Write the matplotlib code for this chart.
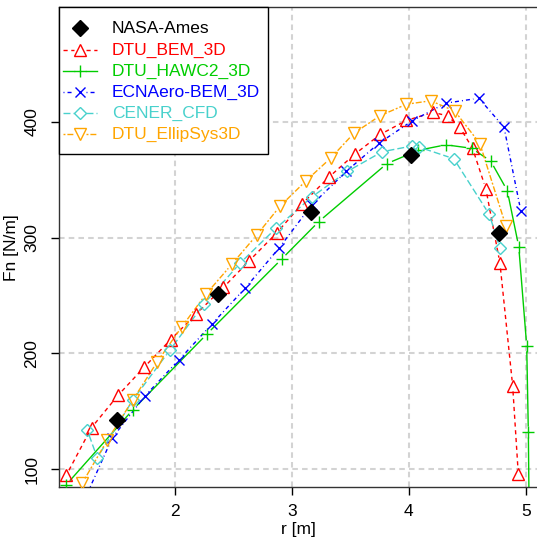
import numpy as np
import matplotlib
matplotlib.use("Agg")
import matplotlib.pyplot as plt
from matplotlib import rcParams
from matplotlib.collections import LineCollection
from matplotlib.lines import Line2D
from matplotlib.patches import Rectangle
from matplotlib.transforms import Affine2D

rcParams['font.family'] = 'sans-serif'
rcParams['font.sans-serif'] = ['Liberation Sans', 'DejaVu Sans']
rcParams['lines.scale_dashes'] = False

# ---- data --------------------------------------------------------------
nasa_r = [1.508, 2.365, 3.165, 4.023, 4.773]
nasa_fn = [142.2, 251.2, 322.4, 371.3, 304.3]

bem_r = [1.073, 1.288, 1.516, 1.737, 1.965, 2.182, 2.416, 2.637, 2.871, 3.088,
         3.316, 3.539, 3.757, 3.979, 4.208, 4.331, 4.437, 4.545, 4.659, 4.779,
         4.888, 4.936]
bem_fn = [95, 136, 164, 188, 212, 234, 257, 280, 304, 329,
          352, 372, 389, 401, 408, 405, 395, 377, 342, 278,
          172, 96]

hawc_r = [1.071, 1.642, 2.274, 2.913, 3.231, 3.813, 4.083, 4.317, 4.537, 4.700,
          4.842, 4.940, 5.008, 5.022, 5.030]
hawc_fn = [86.6, 151.5, 216.7, 281.4, 313.8, 363.8, 375.3, 380, 377, 366,
           340.5, 292.2, 206.6, 132.2, 50]

ecn_r = [1.180, 1.465, 1.742, 2.037, 2.317, 2.602, 2.891, 3.171, 3.465, 3.745,
         4.028, 4.314, 4.599, 4.814, 4.957]
ecn_fn = [63, 127.1, 163, 194.6, 225.3, 256.4, 290.9, 328.2, 357, 381.4,
          400.6, 415.9, 420.2, 395.2, 323.3]

cener_r = [1.251, 1.337, 1.642, 1.959, 2.251, 2.559, 2.865, 3.171, 3.474, 3.772,
           4.028, 4.088, 4.385, 4.688, 4.779]
cener_fn = [134, 110, 160, 203, 243, 278, 308, 335, 357, 374,
            379, 378, 368, 320, 291]

ellip_r = [1.208, 1.422, 1.642, 1.851, 2.060, 2.265, 2.488, 2.699, 2.899, 3.122,
           3.337, 3.531, 3.753, 3.980, 4.188, 4.394, 4.608, 4.830]
ellip_fn = [88, 125, 160, 193, 223, 251, 277, 302, 327, 349,
            369, 390, 405, 415, 418, 409, 381, 310]

# label, r, Fn, colour, marker, dash pattern
SERIES = [
    ('DTU_BEM_3D',     bem_r,   bem_fn,   '#FF0000', '^', (0, (3, 2.6))),
    ('DTU_HAWC2_3D',   hawc_r,  hawc_fn,  '#00CD00', '+', 'solid'),
    ('ECNAero-BEM_3D', ecn_r,   ecn_fn,   '#0000FF', 'x', (0, (0.7, 2.2, 2.9, 2.2))),
    ('CENER_CFD',      cener_r, cener_fn, '#48D1CC', 'D', (0, (5, 2.2))),
    ('DTU_EllipSys3D', ellip_r, ellip_fn, '#FFA500', 'v', (0, (1.4, 1.4, 4.3, 1.4))),
]

W, H = 537, 539
FS = 12.5
fig = plt.figure(figsize=(W / 100, H / 100), dpi=100)
ax = fig.add_axes([59 / W, 1 - 487.3 / H, 1 - 59 / W, (487.3 - 7) / H])
ax.set_xlim(1.01, 5.096)
ax.set_ylim(84.5, 498.9)

# grid
for v in [2, 3, 4, 5]:
    ax.axvline(v, color='#D3D3D3', lw=1.5, dashes=(4, 3), zorder=0)
for v in [100, 200, 300, 400]:
    ax.axhline(v, color='#D3D3D3', lw=1.5, dashes=(4, 3), zorder=0)


def draw_b(ax, x, y, gap_px, **kw):
    """R-style type='b': line segments stop short of each point."""
    pts = ax.transData.transform(np.column_stack([x, y]))
    inv = ax.transData.inverted()
    segs = []
    for p, q in zip(pts[:-1], pts[1:]):
        d = q - p
        L = np.hypot(*d)
        if L > 2 * gap_px:
            u = d / L
            segs.append(inv.transform(np.array([p + u * gap_px, q - u * gap_px])))
    ax.add_collection(LineCollection(segs, **kw))


def mstyle(mk):
    ms = {'D': 6, 'x': 7}.get(mk, 8)
    fill = 'none' if mk in ('^', 'v', 'D') else None
    return ms, fill


for lab, r, fn, col, mk, ls in SERIES:
    draw_b(ax, r, fn, 5.5, colors=col, linewidths=1.0, linestyles=ls, zorder=2)
    ms, fill = mstyle(mk)
    ax.plot(r, fn, ls='none', marker=mk, ms=ms, mfc=fill or col, mec=col,
            mew=1.0, zorder=3)

ax.plot(nasa_r, nasa_fn, ls='none', marker='D', ms=8.5, color='black', zorder=4)

# ---- legend, R style, laid out in pixels from the top-left corner ---------
px = Affine2D().scale(1, -1).translate(0, H)
fig.add_artist(Rectangle((59, 7), 209, 147, transform=px, facecolor='white',
                         edgecolor='black', lw=1.0, zorder=5))
rows = [28.3, 50, 71, 92, 113.3, 134.3]
fig.add_artist(Line2D([80], [rows[0]], transform=px, marker='D', ms=8,
                      color='black', ls='none', zorder=6))
fig.text(112, rows[0], 'NASA-Ames', transform=px, fontsize=FS, va='center',
         ha='left', color='black', zorder=6)
for yrow, (lab, r, fn, col, mk, ls) in zip(rows[1:], SERIES):
    ms, fill = mstyle(mk)
    fig.add_artist(Line2D([63, 74], [yrow, yrow], transform=px, color=col,
                          lw=1.0, ls=ls, zorder=6))
    fig.add_artist(Line2D([86, 97], [yrow, yrow], transform=px, color=col,
                          lw=1.0, ls=ls, zorder=6))
    fig.add_artist(Line2D([80], [yrow], transform=px, marker=mk, ms=ms,
                          mfc=fill or col, mec=col, mew=1.0, ls='none',
                          zorder=6))
    fig.text(112, yrow, lab, transform=px, fontsize=FS, va='center',
             ha='left', color=col, zorder=6)

ax.set_xticks([2, 3, 4, 5])
ax.set_yticks([100, 200, 300, 400])
ax.tick_params(direction='out', length=6, width=1.0, labelsize=FS)
ax.tick_params(axis='x', pad=6)
ax.tick_params(axis='y', pad=8)
for t in ax.get_yticklabels():
    t.set_rotation(90)
    t.set_va('center')
ax.spines['right'].set_visible(False)
for s in ['left', 'bottom', 'top']:
    ax.spines[s].set_color('#333333')
    ax.spines[s].set_linewidth(1.0)

ax.set_xlabel('r [m]', fontsize=FS, labelpad=2)
ax.set_ylabel('Fn [N/m]', fontsize=FS, labelpad=4)

fig.savefig('out.png', dpi=100)
